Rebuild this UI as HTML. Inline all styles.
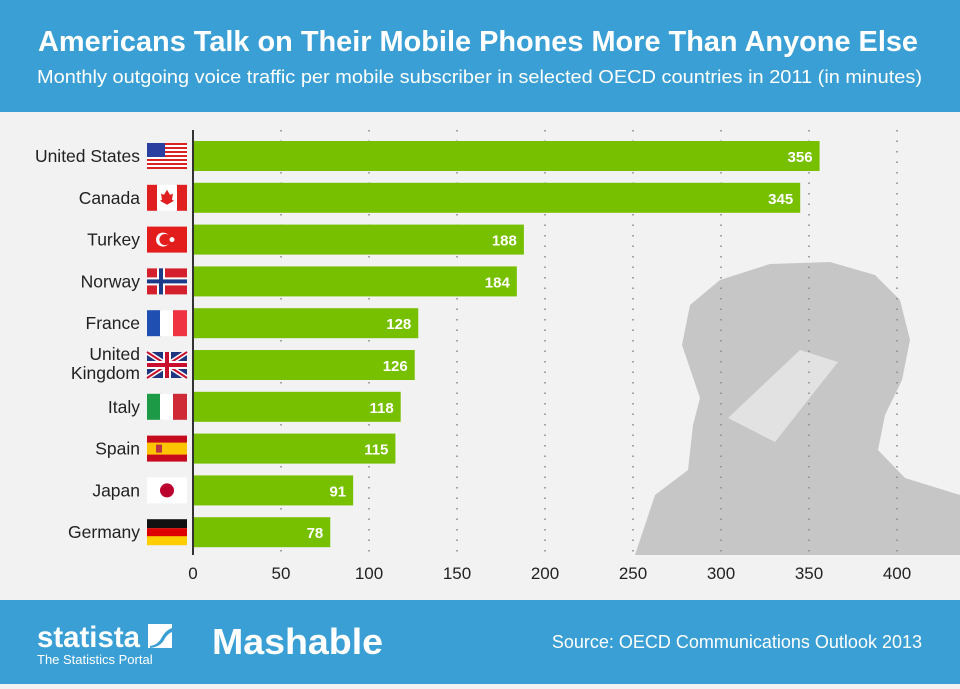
<!DOCTYPE html>
<html><head><meta charset="utf-8"><style>
body{margin:0;width:960px;height:684px;overflow:hidden;font-family:"Liberation Sans",sans-serif;background:#f2f2f3}
</style></head><body>
<svg width="960" height="684" xmlns="http://www.w3.org/2000/svg" id="chart" font-family="Liberation Sans, sans-serif">
<rect x="0" y="0" width="960" height="112" fill="#3a9fd5"/>
<text x="38" y="51" textLength="880" lengthAdjust="spacingAndGlyphs" font-size="29" font-weight="bold" fill="#fff">Americans Talk on Their Mobile Phones More Than Anyone Else</text>
<text x="37" y="83" textLength="885" lengthAdjust="spacingAndGlyphs" font-size="18.5" fill="#fff">Monthly outgoing voice traffic per mobile subscriber in selected OECD countries in 2011 (in minutes)</text>
<rect x="0" y="112" width="960" height="488" fill="#f2f2f3"/>
<path d="M635 555 L655 495 L688 470 L693 425 L700 398 L682 345 L690 305 L720 280 L770 264 L830 262 L875 275 L900 300 L910 340 L902 380 L885 415 L878 450 L905 478 L960 495 L960 555 Z" fill="#c6c6c6"/>
<path d="M728 418 L800 350 L838 362 L775 442 Z" fill="#e2e2e2"/>
<g id="grid"></g>
<g id="bars"></g>
<line x1="193" y1="130" x2="193" y2="555" stroke="#333" stroke-width="2"/>
<g id="ticks"></g>
<rect x="0" y="600" width="960" height="84" fill="#3a9fd5"/>
<text x="37" y="647" textLength="103" lengthAdjust="spacingAndGlyphs" font-size="30" font-weight="bold" fill="#fff">statista</text>
<rect x="148" y="624" width="24" height="24" fill="#fff"/>
<path d="M150 646 q8 -1 12 -9 q4 -7 10 -9 v4 q-5 2 -8 8 q-4 7 -14 8 Z" fill="#3a9fd5"/>
<text x="37" y="664" font-size="13" fill="#fff">The Statistics Portal</text>
<text x="212" y="654" textLength="171" lengthAdjust="spacingAndGlyphs" font-size="36" font-weight="bold" fill="#fff">Mashable</text>
<text x="922" y="648" text-anchor="end" font-size="18" fill="#fff">Source: OECD Communications Outlook 2013</text>
</svg>
<script>
const categories=["United States","Canada","Turkey","Norway","France","United Kingdom","Italy","Spain","Japan","Germany"];
const values=[356,345,188,184,128,126,118,115,91,78];
const tickValues=[0,50,100,150,200,250,300,350,400];
const NS="http://www.w3.org/2000/svg";
const x=v=>193+v*1.76;
const yTop=i=>141+i*41.8;
const BH=30;
function mk(tag,attrs,parent){const e=document.createElementNS(NS,tag);for(const k in attrs)e.setAttribute(k,attrs[k]);parent.appendChild(e);return e;}
const grid=document.getElementById('grid'),bars=document.getElementById('bars'),ticks=document.getElementById('ticks');
tickValues.forEach(t=>{
  if(t>0){const l=mk('line',{x1:x(t),y1:130,x2:x(t),y2:555,stroke:'#888','stroke-width':1.5,'stroke-dasharray':'1.5 9'},grid);
  
  }
  const tx=mk('text',{x:x(t),y:579,'text-anchor':'middle','font-size':17,fill:'#222'},ticks);
  tx.textContent=t;
  
  
});
const flags=[
 '<rect width="40" height="26" fill="#fff"/>'+[0,2,4,6,8,10,12].map(i=>`<rect y="${i*2}" width="40" height="2" fill="#d22"/>`).join('')+'<rect width="18" height="14" fill="#2b3fa0"/>',
 '<rect width="40" height="26" fill="#fff"/><rect width="10" height="26" fill="#e02020"/><rect x="30" width="10" height="26" fill="#e02020"/><path d="M20 5 l3 5 3-1-1 6 2 1-7 4-7-4 2-1-1-6 3 1z" fill="#e02020"/>',
 '<rect width="40" height="26" fill="#e31c1c"/><circle cx="16" cy="13" r="7" fill="#fff"/><circle cx="18" cy="13" r="5.6" fill="#e31c1c"/><circle cx="25" cy="13" r="2.5" fill="#fff"/>',
 '<rect width="40" height="26" fill="#d41f2d"/><rect x="10" width="8" height="26" fill="#fff"/><rect y="9" width="40" height="8" fill="#fff"/><rect x="12" width="4" height="26" fill="#1b3a8a"/><rect y="11" width="40" height="4" fill="#1b3a8a"/>',
 '<rect width="14" height="26" fill="#1f4fb0"/><rect x="13" width="14" height="26" fill="#fff"/><rect x="26" width="14" height="26" fill="#ef3340"/>',
 '<rect width="40" height="26" fill="#1f3580"/><path d="M0 0L40 26M40 0L0 26" stroke="#fff" stroke-width="5"/><path d="M0 0L40 26M40 0L0 26" stroke="#c8102e" stroke-width="2"/><rect x="16" width="8" height="26" fill="#fff"/><rect y="9" width="40" height="8" fill="#fff"/><rect x="18" width="4" height="26" fill="#c8102e"/><rect y="11" width="40" height="4" fill="#c8102e"/>',
 '<rect width="14" height="26" fill="#1d9a46"/><rect x="13" width="14" height="26" fill="#fff"/><rect x="26" width="14" height="26" fill="#ce2b37"/>',
 '<rect width="40" height="26" fill="#c60b1e"/><rect y="7" width="40" height="12" fill="#ffc400"/><rect x="9" y="9" width="6" height="8" fill="#b34"/>',
 '<rect width="40" height="26" fill="#fff"/><circle cx="20" cy="13" r="7" fill="#bc002d"/>',
 '<rect width="40" height="9" fill="#111"/><rect y="9" width="40" height="9" fill="#dd0000"/><rect y="17" width="40" height="9" fill="#ffce00"/>'
];
categories.forEach((c,i)=>{
  const y=yTop(i);
  const r=mk('rect',{x:194,y:y,width:x(values[i])-194,height:BH,fill:'#77c000'},bars);
  
  
  const v=mk('text',{x:x(values[i])-7,y:y+21,'text-anchor':'end','font-size':15,'font-weight':'bold',fill:'#fff'},bars);
  v.textContent=values[i];
  
  
  const lbl=mk('text',{'text-anchor':'end','font-size':17.5,fill:'#222'},bars);
  
  
  if(c==="United Kingdom"){
    lbl.innerHTML=`<tspan x="140" y="${y+10}">United</tspan><tspan x="140" y="${y+29}">Kingdom</tspan>`;
  } else {lbl.setAttribute('x',140);lbl.setAttribute('y',y+21);lbl.textContent=c;}
  const g=mk('g',{transform:`translate(147,${y+2})`},bars);
  g.innerHTML=flags[i];
  
  
});
</script>
</body></html>
